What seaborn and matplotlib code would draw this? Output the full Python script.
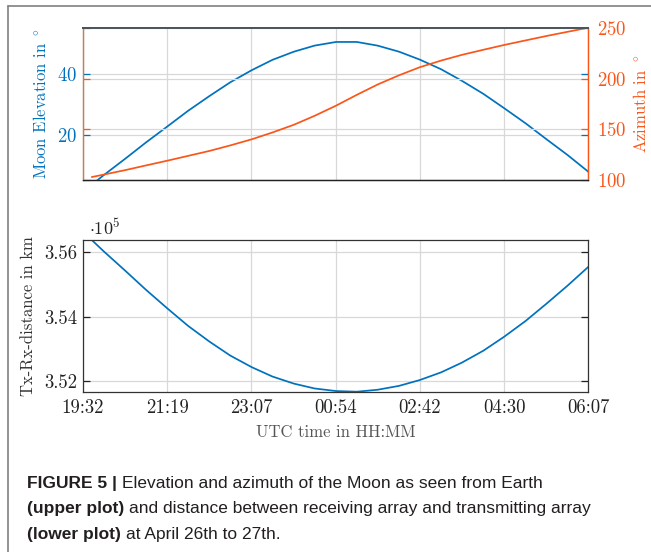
import pandas as pd
import numpy as np
import matplotlib.pyplot as plt
import seaborn as sns
from matplotlib.lines import Line2D

sns.set_style("white")
plt.rcParams['font.family'] = ['cmr10']
plt.rcParams['mathtext.fontset'] = 'cm'
plt.rcParams['axes.formatter.use_mathtext'] = True
plt.rcParams['axes.unicode_minus'] = False

# ============================================================
# Data (April 26th to 27th)
# ============================================================

times = ['19:43', '19:58', '20:25', '20:51', '21:18', '21:44', '22:11', '22:37',
         '23:04', '23:30', '23:57', '00:23', '00:50', '01:16', '01:42', '02:09',
         '02:35', '03:02', '03:28', '03:55', '04:21', '04:48', '05:14', '05:41', '06:07']

elevation = [3.5, 6.7, 12.1, 17.45, 22.75, 27.9, 32.8, 37.3, 41.3, 44.7, 47.4, 49.4,
             50.6, 50.6, 49.4, 47.4, 44.8, 41.6, 37.8, 33.5, 28.8, 23.8, 18.6, 13.3, 7.8]

azimuth = [103.2, 105.6, 110.0, 114.6, 119.3, 124.0, 128.9, 134.3, 140.3, 147.0,
           154.6, 163.4, 173.4, 184.0, 194.1, 203.2, 211.1, 217.7, 223.3, 228.3,
           233.0, 237.5, 241.8, 246.0, 250.0]

distance_km = [356380, 356030, 355430, 354840, 354260, 353720, 353230, 352800,
               352440, 352150, 351930, 351780, 351700, 351680, 351740, 351860,
               352040, 352280, 352580, 352950, 353380, 353870, 354400, 354970, 355550]

tick_labels = ['19:32', '21:19', '23:07', '00:54', '02:42', '04:30', '06:07']
start, end = '19:32', '06:07'

caption = [
    [('FIGURE 5 |', True), ('Elevation and azimuth of the Moon as seen from Earth', False)],
    [('(upper plot)', True), ('and distance between receiving array and transmitting array', False)],
    [('(lower plot)', True), ('at April 26th to 27th.', False)],
]


def minutes_since(t, ref=start):
    h, m = map(int, t.split(':'))
    rh, rm = map(int, ref.split(':'))
    d = (h * 60 + m) - (rh * 60 + rm)
    return d % (24 * 60)


df = pd.DataFrame({'t': [minutes_since(t) for t in times],
                   'elevation': elevation,
                   'azimuth': azimuth,
                   'distance': np.array(distance_km) / 1e5})
t_end = minutes_since(end)
xticks = np.linspace(0, t_end, len(tick_labels))

blue = '#0072bd'
orange = '#f9561a'
grid_c = '#d8d8d8'
tick_fs = 13.5
label_fs = 12

W, H = 651, 552
fig = plt.figure(figsize=(W / 100, H / 100), dpi=100)

# ============================================================
# Upper plot: elevation + azimuth
# ============================================================
ax1 = fig.add_axes([83 / W, 1 - 180.3 / H, 505.4 / W, 152.6 / H])
ax1r = ax1.twinx()

sns.lineplot(data=df, x='t', y='elevation', ax=ax1, color=blue, linewidth=1.25)
sns.lineplot(data=df, x='t', y='azimuth', ax=ax1r, color=orange, linewidth=1.25)

ax1.set_xlim(0, t_end)
ax1.set_ylim(5, 55.3)
ax1r.set_ylim(100, 250)
ax1.set_xticks(xticks)
ax1.set_xticklabels([])
ax1.set_yticks([20, 40])
ax1r.set_yticks([100, 150, 200, 250])

ax1.grid(True, color=grid_c, linewidth=0.9)
ax1r.grid(True, axis='y', color=grid_c, linewidth=0.9)
ax1.set_axisbelow(True)
ax1r.set_axisbelow(True)

ax1.tick_params(axis='x', length=0)
ax1.tick_params(axis='y', direction='in', length=5, width=0.9, colors=blue,
                left=True, right=True, labelsize=tick_fs, pad=4)
ax1r.tick_params(axis='y', direction='in', length=5, width=0.9, colors=orange,
                 left=True, right=True, labelleft=False, labelright=True,
                 labelsize=tick_fs, pad=6)

ax1.set_xlabel('')
ax1.set_ylabel(r'Moon Elevation in $^\circ$', color=blue, fontsize=label_fs, labelpad=6)
ax1r.set_ylabel(r'Azimuth in $^\circ$', color=orange, fontsize=label_fs, labelpad=4)

for a in (ax1, ax1r):
    a.spines['left'].set_color('#c4805a')
    a.spines['right'].set_color(orange)
    a.spines['top'].set_color('#4a555c')
    a.spines['bottom'].set_color('#222222')
    for s in a.spines.values():
        s.set_linewidth(0.9)
    a.spines['top'].set_linewidth(1.4)

# ============================================================
# Lower plot: Tx-Rx distance
# ============================================================
ax2 = fig.add_axes([83 / W, 1 - 391.7 / H, 505.4 / W, 151.7 / H])
sns.lineplot(data=df, x='t', y='distance', ax=ax2, color=blue, linewidth=1.25)

ax2.set_xlim(0, t_end)
ax2.set_ylim(3.5168, 3.5638)
ax2.set_xticks(xticks)
ax2.set_xticklabels(tick_labels)
ax2.set_yticks([3.52, 3.54, 3.56])
ax2.set_yticklabels(['3.52', '3.54', '3.56'])
ax2.grid(True, color=grid_c, linewidth=0.9)
ax2.set_axisbelow(True)
ax2.tick_params(axis='x', length=0, labelsize=tick_fs, pad=5, colors='#222222')
ax2.tick_params(axis='y', direction='in', length=5, width=0.9, colors='#222222',
                left=True, right=True, labelsize=tick_fs, pad=4)
for s in ax2.spines.values():
    s.set_color('#333333')
    s.set_linewidth(0.9)

ax2.set_xlabel('UTC time in HH:MM', color='#555555', fontsize=label_fs, labelpad=6)
ax2.set_ylabel('Tx-Rx-distance in km', color='#333333', fontsize=label_fs, labelpad=6)
ax2.text(0.012, 1.033, r'$\cdot 10^5$', transform=ax2.transAxes, fontsize=13,
         ha='left', va='baseline', color='#222222')

# ============================================================
# Frame and caption
# ============================================================
fig.add_artist(Line2D([7.5 / W, 7.5 / W], [0, 1 - 6 / H], color='#808080', linewidth=1.2))
fig.add_artist(Line2D([7.5 / W, 1], [1 - 6 / H, 1 - 6 / H], color='#808080', linewidth=1.2))

cap_family = ['Liberation Sans Narrow', 'Liberation Sans']
cap_size = 12.5
renderer = fig.canvas.get_renderer()
probe1 = fig.text(0, 0, 'x x', fontsize=cap_size, family=cap_family)
probe2 = fig.text(0, 0, 'xx', fontsize=cap_size, family=cap_family)
space = probe1.get_window_extent(renderer).width - probe2.get_window_extent(renderer).width
probe1.remove()
probe2.remove()

for i, line in enumerate(caption):
    x = 27
    y = 488 + i * 25.5
    for txt, bold in line:
        t = fig.text(x / W, 1 - y / H, txt, fontsize=cap_size, family=cap_family,
                     fontweight='bold' if bold else 'normal', color='#231f20',
                     va='baseline', ha='left')
        x += t.get_window_extent(renderer).width + space

plt.savefig('out.png', dpi=100)
plt.close()
